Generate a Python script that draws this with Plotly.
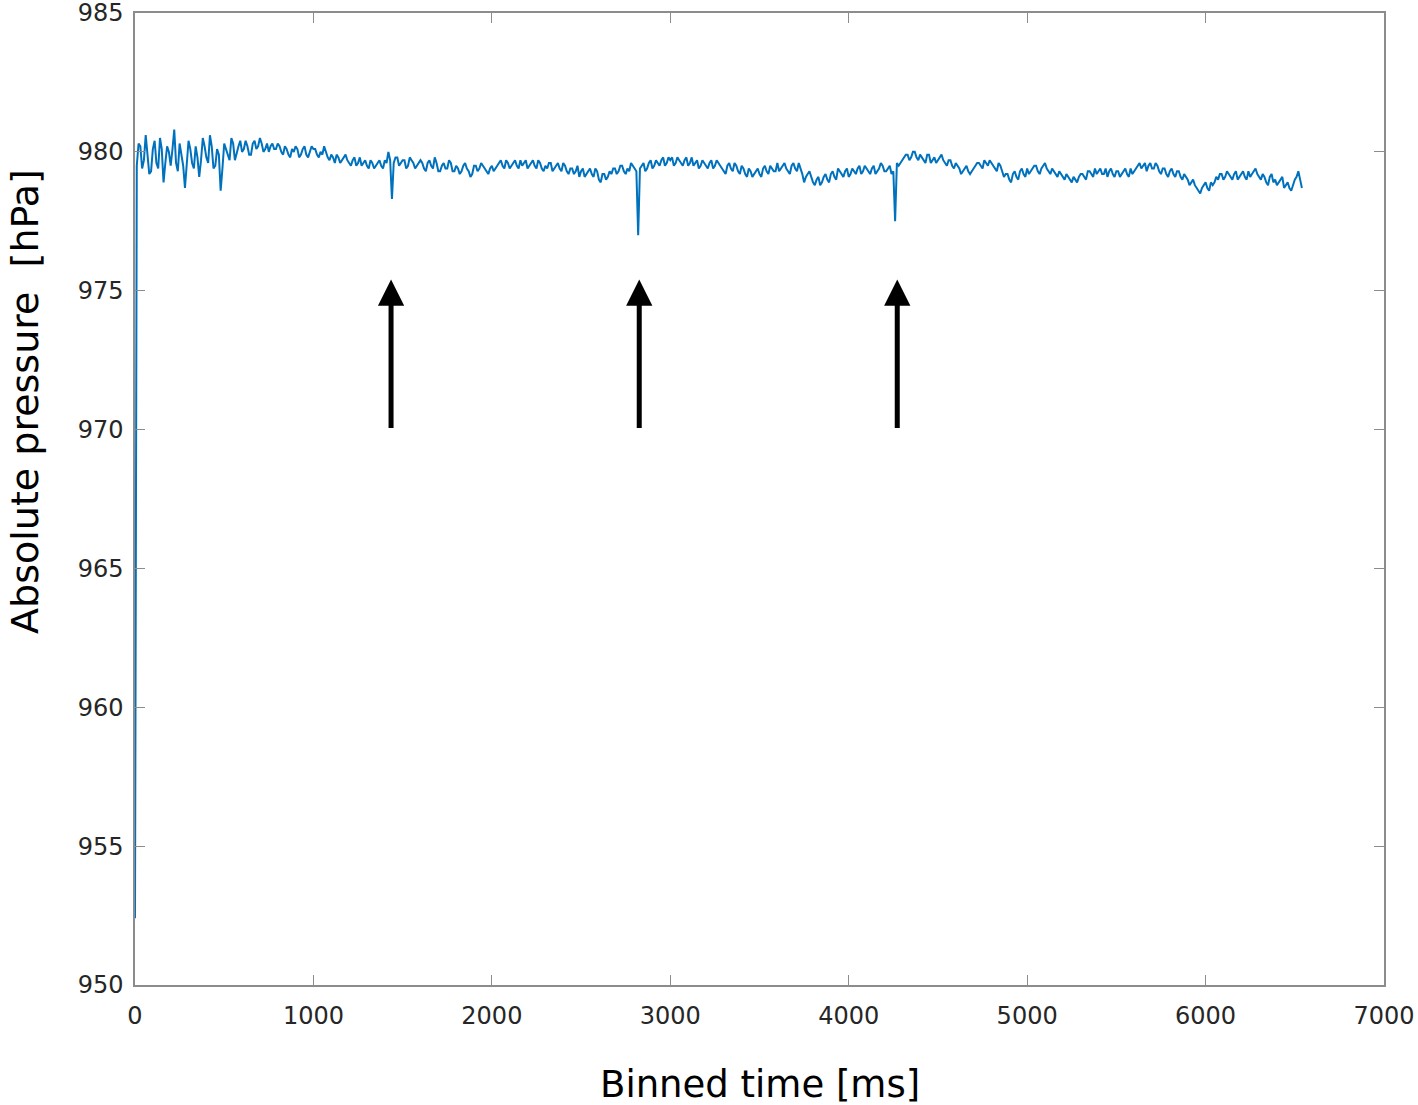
import plotly.graph_objects as go

# initial sensor settling point at t = 0
start_time = [0]
start_pressure = [952.4]

# binned pressure samples, one every 10 ms from 10 ms to 6540 ms
pressure = [
    979.5, 980.3, 980.2, 979.4, 979.7, 980.6, 980.0, 979.2, 979.3, 980.1, 980.4, 979.6, 979.4, 980.5, 980.1, 978.9, 979.6, 980.2, 980.0, 979.5,
    980.1, 980.8, 979.6, 979.3, 980.3, 979.9, 979.5, 978.7, 979.6, 980.4, 980.1, 979.6, 979.4, 980.2, 979.8, 979.1, 979.7, 980.5, 980.2, 979.8,
    979.6, 980.6, 980.2, 979.4, 979.5, 980.1, 979.9, 978.6, 979.4, 980.3, 980.1, 979.9, 979.7, 980.5, 980.3, 979.7, 980.0, 980.2, 980.4, 980.0,
    980.1, 980.4, 980.2, 979.9, 979.9, 980.3, 980.4, 980.1, 980.2, 980.5, 980.3, 980.0, 980.1, 980.3, 980.0, 980.2, 980.3, 980.1, 980.1, 980.3,
    980.2, 980.0, 979.9, 980.2, 980.1, 979.9, 979.8, 980.1, 980.0, 980.2, 980.1, 979.8, 979.9, 980.1, 980.2, 979.9, 979.8, 980.0, 980.2, 980.1,
    980.1, 979.9, 979.8, 980.0, 979.9, 980.2, 980.0, 979.8, 979.7, 979.9, 979.8, 979.6, 979.9, 979.8, 979.6, 979.7, 979.8, 979.9, 979.7, 979.6,
    979.5, 979.7, 979.8, 979.5, 979.6, 979.8, 979.5, 979.6, 979.7, 979.5, 979.4, 979.7, 979.6, 979.4, 979.5, 979.6, 979.7, 979.5, 979.4, 979.7,
    979.6, 980.0, 979.7, 978.3, 979.6, 979.8, 979.8, 979.5, 979.6, 979.7, 979.7, 979.4, 979.5, 979.8, 979.7, 979.6, 979.4, 979.5, 979.6, 979.7,
    979.6, 979.4, 979.3, 979.6, 979.7, 979.5, 979.4, 979.8, 979.6, 979.3, 979.3, 979.5, 979.6, 979.4, 979.4, 979.7, 979.6, 979.3, 979.3, 979.5,
    979.4, 979.2, 979.3, 979.5, 979.6, 979.4, 979.3, 979.1, 979.2, 979.5, 979.5, 979.3, 979.4, 979.6, 979.5, 979.4, 979.3, 979.2, 979.4, 979.5,
    979.3, 979.4, 979.5, 979.6, 979.7, 979.5, 979.4, 979.7, 979.6, 979.4, 979.5, 979.6, 979.7, 979.5, 979.4, 979.7, 979.5, 979.6, 979.7, 979.4,
    979.5, 979.6, 979.7, 979.5, 979.4, 979.7, 979.6, 979.4, 979.3, 979.5, 979.4, 979.6, 979.6, 979.3, 979.4, 979.5, 979.6, 979.4, 979.3, 979.6,
    979.5, 979.3, 979.2, 979.4, 979.4, 979.2, 979.3, 979.5, 979.1, 979.3, 979.4, 979.1, 979.2, 979.3, 979.4, 979.2, 979.1, 979.4, 979.3, 979.0,
    978.9, 979.2, 979.2, 979.0, 979.1, 979.3, 979.2, 979.4, 979.4, 979.2, 979.3, 979.5, 979.5, 979.3, 979.2, 979.4, 979.3, 979.6, 979.5, 979.4,
    979.3, 977.0, 979.4, 979.5, 979.6, 979.3, 979.4, 979.6, 979.7, 979.4, 979.5, 979.7, 979.6, 979.5, 979.7, 979.8, 979.5, 979.6, 979.8, 979.7,
    979.8, 979.5, 979.6, 979.8, 979.7, 979.6, 979.5, 979.7, 979.8, 979.5, 979.6, 979.8, 979.5, 979.6, 979.7, 979.4, 979.5, 979.7, 979.6, 979.5,
    979.4, 979.6, 979.7, 979.4, 979.5, 979.7, 979.6, 979.5, 979.4, 979.3, 979.2, 979.5, 979.6, 979.4, 979.3, 979.6, 979.5, 979.3, 979.2, 979.5,
    979.4, 979.2, 979.1, 979.4, 979.3, 979.1, 979.2, 979.3, 979.4, 979.2, 979.1, 979.4, 979.5, 979.3, 979.2, 979.5, 979.4, 979.3, 979.3, 979.6,
    979.3, 979.4, 979.5, 979.6, 979.4, 979.3, 979.2, 979.5, 979.6, 979.4, 979.3, 979.6, 979.4, 979.2, 978.9, 979.1, 979.2, 979.3, 979.1, 978.9,
    978.8, 979.0, 979.1, 978.8, 978.9, 979.1, 979.2, 979.0, 978.9, 979.2, 979.3, 979.1, 979.0, 979.4, 979.3, 979.2, 979.1, 979.3, 979.4, 979.1,
    979.2, 979.4, 979.3, 979.2, 979.4, 979.5, 979.2, 979.3, 979.5, 979.4, 979.3, 979.2, 979.4, 979.5, 979.2, 979.3, 979.4, 979.6, 979.5, 979.3,
    979.3, 979.4, 979.5, 979.2, 979.3, 977.5, 979.6, 979.5, 979.6, 979.7, 979.8, 979.9, 979.9, 979.7, 979.8, 980.0, 980.0, 979.8, 979.7, 979.9,
    979.8, 979.7, 979.6, 979.9, 979.9, 979.6, 979.7, 979.8, 979.6, 979.7, 979.8, 979.9, 979.7, 979.6, 979.5, 979.7, 979.7, 979.5, 979.4, 979.6,
    979.5, 979.4, 979.2, 979.3, 979.4, 979.5, 979.3, 979.2, 979.3, 979.4, 979.5, 979.6, 979.6, 979.5, 979.4, 979.7, 979.6, 979.5, 979.7, 979.6,
    979.5, 979.4, 979.3, 979.6, 979.5, 979.3, 979.1, 979.2, 979.2, 979.0, 978.9, 979.2, 979.3, 979.1, 979.0, 979.3, 979.4, 979.2, 979.1, 979.4,
    979.2, 979.3, 979.4, 979.5, 979.5, 979.3, 979.2, 979.4, 979.5, 979.6, 979.4, 979.3, 979.2, 979.4, 979.3, 979.2, 979.1, 979.3, 979.2, 979.1,
    979.0, 979.2, 979.1, 979.0, 978.9, 979.1, 979.0, 978.9, 979.1, 979.2, 979.2, 979.1, 979.0, 979.3, 979.3, 979.2, 979.1, 979.4, 979.2, 979.3,
    979.4, 979.2, 979.2, 979.4, 979.1, 979.3, 979.4, 979.2, 979.1, 979.3, 979.3, 979.1, 979.2, 979.3, 979.4, 979.2, 979.1, 979.4, 979.2, 979.3,
    979.4, 979.5, 979.6, 979.4, 979.5, 979.6, 979.3, 979.5, 979.6, 979.4, 979.4, 979.6, 979.5, 979.3, 979.2, 979.4, 979.4, 979.2, 979.1, 979.3,
    979.4, 979.2, 979.1, 979.3, 979.3, 979.1, 979.0, 979.2, 979.1, 979.0, 978.8, 978.9, 979.0, 978.8, 978.7, 978.6, 978.5, 978.7, 978.8, 978.9,
    978.7, 978.6, 978.9, 978.8, 978.9, 979.1, 979.0, 979.2, 979.2, 979.0, 979.1, 979.3, 979.2, 979.1, 979.0, 979.2, 979.3, 979.0, 979.1, 979.2,
    979.3, 979.1, 979.0, 979.3, 979.1, 979.2, 979.3, 979.4, 979.2, 979.1, 979.0, 979.2, 979.1, 978.9, 978.8, 979.1, 979.2, 978.9, 979.0, 978.8,
    978.9, 979.0, 979.1, 978.7, 978.8, 978.9, 978.7, 978.6, 978.8, 979.0, 979.1, 979.3, 979.0, 978.7,
]
bin_ms = 10
time_ms = start_time + [bin_ms * (i + 1) for i in range(len(pressure))]
values = start_pressure + pressure

# arrows marking the dips
arrow_x = [1435, 2826, 4272]
arrow_base = 970
arrow_tip = 975.4

x_ticks = [0, 1000, 2000, 3000, 4000, 5000, 6000, 7000]
y_ticks = [950, 955, 960, 965, 970, 975, 980, 985]

FONT = "DejaVu Sans, Liberation Sans, Arial, sans-serif"

fig = go.Figure()
fig.add_trace(go.Scatter(x=time_ms, y=values, mode="lines",
                         line=dict(color="#0072BD", width=2),
                         showlegend=False))

for ax_x in arrow_x:
    fig.add_annotation(x=ax_x, y=arrow_tip, ax=ax_x, ay=arrow_base,
                       xref="x", yref="y", axref="x", ayref="y",
                       text="", showarrow=True, arrowhead=2,
                       arrowsize=1.05, arrowwidth=5, arrowcolor="black",
                       standoff=0, startstandoff=0)

axis_style = dict(showline=True, linecolor="#8c8c8c", linewidth=1.5,
                  mirror="ticks", ticks="inside", ticklen=10,
                  tickcolor="#8c8c8c", tickwidth=1.2, showgrid=False,
                  zeroline=False, ticklabeloverflow="allow", automargin=False,
                  tickfont=dict(family=FONT, size=24, color="#262626"))

fig.update_xaxes(range=[0, 7000], tickvals=x_ticks, ticklabelstandoff=8,
                 **axis_style)
fig.update_yaxes(range=[950, 985], tickvals=y_ticks, ticklabelstandoff=5,
                 **axis_style)

fig.add_annotation(text="Binned time [ms]", x=0.5, y=-0.078,
                   xref="paper", yref="paper", xanchor="center",
                   yanchor="top", showarrow=False,
                   font=dict(family=FONT, size=37, color="black"))
fig.add_annotation(text="Absolute pressure \u00a0[hPa]", x=-0.088, y=0.6,
                   xref="paper", yref="paper", xanchor="center",
                   yanchor="middle", textangle=-90, showarrow=False,
                   font=dict(family=FONT, size=38, color="black"))

fig.update_layout(width=1418, height=1105,
                  margin=dict(l=135, r=34, t=13, b=120, autoexpand=False),
                  plot_bgcolor="white", paper_bgcolor="white",
                  font=dict(family=FONT))

fig.write_html("out.html", config={"displayModeBar": False},
               post_script="document.body.style.margin='0';")
